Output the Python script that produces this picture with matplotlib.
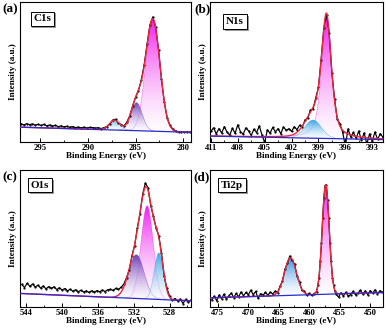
import numpy as np
import matplotlib
matplotlib.use("Agg")
import matplotlib.pyplot as plt
import matplotlib.patheffects as pe
from matplotlib.patches import Polygon
from matplotlib.ticker import MultipleLocator, AutoMinorLocator
from matplotlib.colors import to_rgb

plt.rcParams['font.family'] = ['Liberation Serif', 'DejaVu Serif']
plt.rcParams['font.weight'] = 'bold'
plt.rcParams['axes.linewidth'] = 0.8

# ---- (a) C1s : raw scan
c1s_be = [297.0, 296.7, 296.4, 296.1, 295.8, 295.5, 295.2, 294.9, 294.6, 294.3,
          294.0, 293.7, 293.4, 293.1, 292.8, 292.5, 292.2, 291.9, 291.6, 291.3,
          291.0, 290.7, 290.4, 290.1, 289.8, 289.5, 289.2, 288.9, 288.6, 288.3,
          288.0, 287.7, 287.4, 287.1, 286.8, 286.5, 286.2, 285.9, 285.6, 285.3,
          285.0, 284.7, 284.4, 284.1, 283.8, 283.5, 283.2, 282.9, 282.6, 282.3,
          282.0, 281.7, 281.4, 281.1, 280.8, 280.5, 280.2, 279.9, 279.6, 279.3]
c1s_int = [13.0, 12.2, 13.1, 12.4, 12.9, 12.0, 12.6, 11.8, 12.5, 11.6,
           12.2, 11.4, 11.9, 11.0, 11.5, 10.8, 11.2, 10.5, 11.0, 10.3,
           10.6, 10.1, 10.5, 10.0, 10.4, 10.3, 10.0, 10.2, 9.6, 10.3,
           11.0, 13.0, 15.6, 16.2, 13.6, 12.4, 11.5, 14.5, 18.9, 26.0,
           32.0, 36.5, 44.5, 55.2, 69.8, 83.5, 89.3, 82.0, 66.0, 45.2,
           28.6, 17.2, 11.8, 9.2, 7.8, 7.0, 7.4, 6.9, 7.2, 7.0]
# fitted components: (centre, height, fwhm, lorentz fraction)
c1s_peaks = [(283.2, 80, 1.75, 0.0), (284.9, 20, 1.4, 0.0), (287.2, 7, 1.3, 0.0)]
c1s_bg = (10.6, 6.9)

# ---- (b) N1s
n1s_be = [411.0, 410.7, 410.4, 410.1, 409.8, 409.5, 409.2, 408.9, 408.6, 408.3,
          408.0, 407.7, 407.4, 407.1, 406.8, 406.5, 406.2, 405.9, 405.6, 405.3,
          405.0, 404.7, 404.4, 404.1, 403.8, 403.5, 403.2, 402.9, 402.6, 402.3,
          402.0, 401.7, 401.4, 401.1, 400.8, 400.5, 400.2, 399.9, 399.6, 399.3,
          399.0, 398.7, 398.4, 398.1, 397.8, 397.5, 397.2, 396.9, 396.6, 396.3,
          396.0, 395.7, 395.4, 395.1, 394.8, 394.5, 394.2, 393.9, 393.6, 393.3,
          393.0, 392.7, 392.4, 392.1, 391.8]
n1s_int = [7.5, 10.2, 5.8, 9.6, 6.4, 11.0, 7.1, 4.9, 9.8, 6.2,
           12.3, 7.4, 5.5, 10.1, 8.0, 4.6, 9.2, 6.7, 11.5, 5.1,
           -0.5, 8.7, 6.3, 10.4, 7.2, 9.6, 5.9, 10.8, 8.3, 9.5,
           7.6, 10.9, 8.8, 12.0, 10.6, 15.8, 16.9, 22.7, 23.5, 31.5,
           39.0, 58.8, 81.5, 91.0, 78.0, 49.2, 31.0, 16.2, 13.0, 7.1,
           -3.0, 9.4, 3.6, 6.8, 2.5, 7.9, 1.2, 6.5, -1.5, 5.8,
           0.4, 7.2, 1.9, 6.0, 3.3]
n1s_peaks = [(398.1, 86, 1.3, 0.6), (399.6, 13, 2.2, 0.0)]
n1s_bg = (4.2, 1.7)

# ---- (c) O1s
o1s_be = [544.5, 544.2, 543.9, 543.6, 543.3, 543.0, 542.7, 542.4, 542.1, 541.8,
          541.5, 541.2, 540.9, 540.6, 540.3, 540.0, 539.7, 539.4, 539.1, 538.8,
          538.5, 538.2, 537.9, 537.6, 537.3, 537.0, 536.7, 536.4, 536.1, 535.8,
          535.5, 535.2, 534.9, 534.6, 534.3, 534.0, 533.7, 533.4, 533.1, 532.8,
          532.5, 532.2, 531.9, 531.6, 531.3, 531.0, 530.7, 530.4, 530.1, 529.8,
          529.5, 529.2, 528.9, 528.6, 528.3, 528.0, 527.7, 527.4, 527.1, 526.8,
          526.5, 526.2, 525.9, 525.6]
o1s_int = [16.5, 14.2, 17.3, 15.1, 16.8, 14.6, 15.9, 13.8, 15.4, 13.2,
           14.9, 13.6, 14.8, 12.7, 14.1, 12.4, 13.5, 11.8, 13.0, 11.5,
           12.6, 11.1, 12.2, 10.9, 11.8, 10.6, 11.9, 10.8, 12.0, 11.1,
           12.4, 11.3, 12.6, 12.9, 12.1, 13.6, 12.8, 14.5, 16.8, 21.5,
           27.0, 37.5, 44.8, 57.6, 68.0, 82.5, 90.5, 87.0, 74.0, 66.5,
           57.5, 52.0, 39.5, 22.5, 13.9, 8.0, 5.0, 6.2, 4.3, 5.9,
           2.5, 5.6, 3.4, 5.2]
o1s_peaks = [(530.5, 68, 1.6, 0.0), (531.7, 32, 2.0, 0.0), (529.2, 34, 1.2, 0.0)]
o1s_bg = (9.9, 4.5)

# ---- (d) Ti2p
ti2p_be = [476.0, 475.6, 475.2, 474.8, 474.4, 474.0, 473.6, 473.2, 472.8, 472.4,
           472.0, 471.6, 471.2, 470.8, 470.4, 470.0, 469.6, 469.2, 468.8, 468.4,
           468.0, 467.6, 467.2, 466.8, 466.4, 466.0, 465.6, 465.2, 464.8, 464.4,
           464.0, 463.6, 463.2, 462.8, 462.4, 462.0, 461.6, 461.2, 460.8, 460.4,
           460.0, 459.6, 459.2, 458.8, 458.6, 458.4, 458.2, 458.0, 457.8, 457.6,
           457.4, 457.2, 457.0, 456.8, 456.6, 456.4, 456.2, 456.0, 455.8, 455.6,
           455.2, 454.8, 454.4, 454.0, 453.6, 453.2, 452.8, 452.4, 452.0, 451.6,
           451.2, 450.8, 450.4, 450.0, 449.6, 449.2, 448.8, 448.4, 448.0]
ti2p_int = [5.2, 7.9, 4.6, 8.8, 6.1, 9.4, 5.8, 8.3, 10.2, 6.9,
            9.9, 7.4, 11.0, 8.2, 10.6, 8.9, 12.3, 9.0, 11.4, 6.3,
            9.8, 8.5, 10.7, 8.6, 10.9, 9.5, 11.6, 10.4, 15.2, 18.9,
            27.6, 31.8, 37.2, 34.0, 31.2, 22.4, 18.3, 12.1, 11.4, 8.7,
            9.9, 8.4, 9.8, 11.2, 15.9, 21.2, 33.3, 46.4, 64.8, 79.9,
            88.6, 89.2, 78.3, 64.9, 46.8, 33.5, 21.5, 16.2, 11.6, 9.4,
            7.2, 10.4, 8.0, 10.8, 7.9, 9.1, 11.5, 8.8, 10.2, 12.4,
            9.3, 11.8, 8.9, 12.0, 10.1, 12.6, 9.6, 11.9, 10.8]
ti2p_peaks = [(457.3, 80, 1.35, 0.0), (463.1, 27.5, 2.3, 0.0)]
ti2p_bg = (6.7, 10.6)

MAGENTA = '#f01ef0'
PURPLE = '#7040b8'
SKY = '#3aa6e4'


def component(x, c, h, fwhm, eta):
    u = (x - c) / fwhm
    return h * ((1 - eta) * np.exp(-4 * np.log(2) * u ** 2) + eta / (1 + 4 * u ** 2))


def gradient_fill(ax, x, lo, hi, color, z):
    verts = np.column_stack([np.r_[x, x[::-1]], np.r_[hi, lo[::-1]]])
    patch = Polygon(verts, closed=True, fc='none', ec='none')
    ax.add_patch(patch)
    r, g, b = to_rgb(color)
    t = np.linspace(0, 1, 200)[:, None] ** 0.9
    img = np.empty((200, 1, 4))
    img[..., 0] = 1 + (r - 1) * t
    img[..., 1] = 1 + (g - 1) * t
    img[..., 2] = 1 + (b - 1) * t
    img[..., 3] = 0.3 + 0.7 * t
    im = ax.imshow(img, origin='lower', aspect='auto', interpolation='bilinear',
                   extent=[x.min(), x.max(), lo.min(), hi.max()], zorder=z)
    im.set_clip_path(patch)
    ax.plot(x, hi, color=color, lw=0.4, alpha=0.6, zorder=z)


def panel(ax, be, counts, xlim, bg, peaks, colors, step, name, tag, tagpos, boxpos):
    xs = np.linspace(xlim[1], xlim[0], 800)
    base = bg[1] + (xs - xlim[1]) / (xlim[0] - xlim[1]) * (bg[0] - bg[1])
    total = base.copy()
    for i, (pk, col) in enumerate(zip(peaks, colors)):
        comp = component(xs, *pk)
        total += comp
        m = comp > 0.15
        gradient_fill(ax, xs[m], base[m], base[m] + comp[m], col, 1 + i * 0.1)
    ax.plot(be, counts, color='black', lw=0.85, marker='.', ms=1.2, zorder=3)
    ax.plot(xs, total, color='#e8283a', lw=1.0, zorder=4)
    ax.plot(xs, base, color='#2a2ad0', lw=0.9, zorder=5)

    ax.set_xlim(*xlim)
    ax.set_ylim(0, 100)
    ax.set_yticks([])
    ax.xaxis.set_major_locator(MultipleLocator(step))
    ax.xaxis.set_minor_locator(AutoMinorLocator(2))
    ax.tick_params(axis='x', which='major', direction='in', length=3, width=0.7,
                   labelsize=6.2, pad=1.5)
    ax.tick_params(axis='x', which='minor', direction='in', length=1.8, width=0.6)
    ax.set_xlabel('Binding Energy (eV)', fontsize=6.6, fontweight='bold', labelpad=0)
    ax.set_ylabel('Intensity (a.u.)', fontsize=6.6, fontweight='bold', labelpad=2)

    t = ax.text(boxpos[0], boxpos[1], name, transform=ax.transAxes, fontsize=8,
                fontweight='bold', ha='center', va='center', zorder=10,
                bbox=dict(boxstyle='square,pad=0.25', fc='white', ec='black', lw=0.7))
    t.get_bbox_patch().set_path_effects(
        [pe.SimplePatchShadow(offset=(1.3, -1.3), shadow_rgbFace='0.55', alpha=0.9),
         pe.Normal()])
    ax.figure.text(tagpos[0], tagpos[1], tag, fontsize=9.5, fontweight='bold',
                   ha='center', va='center')


fig = plt.figure(figsize=(3.87, 3.32), dpi=100)
ax_a = fig.add_axes([0.0517, 0.5723, 0.4419, 0.4217])
ax_b = fig.add_axes([0.5426, 0.5723, 0.447, 0.4217])
ax_c = fig.add_axes([0.0517, 0.0753, 0.4419, 0.4127])
ax_d = fig.add_axes([0.5426, 0.0753, 0.447, 0.4127])

panel(ax_a, c1s_be, c1s_int, (297.1, 279.2), c1s_bg, c1s_peaks,
      [MAGENTA, PURPLE, SKY], 5, 'C1s', '(a)', (0.026, 0.973), (0.13, 0.88))
panel(ax_b, n1s_be, n1s_int, (411.1, 391.8), n1s_bg, n1s_peaks,
      [MAGENTA, SKY], 3, 'N1s', '(b)', (0.522, 0.973), (0.145, 0.86))
panel(ax_c, o1s_be, o1s_int, (544.7, 525.6), o1s_bg, o1s_peaks,
      [MAGENTA, PURPLE, SKY], 4, 'O1s', '(c)', (0.026, 0.467), (0.117, 0.89))
panel(ax_d, ti2p_be, ti2p_int, (476.3, 447.9), ti2p_bg, ti2p_peaks,
      [MAGENTA, '#2f8ee0'], 5, 'Ti2p', '(d)', (0.522, 0.467), (0.127, 0.89))

fig.savefig('out.png', dpi=100)
